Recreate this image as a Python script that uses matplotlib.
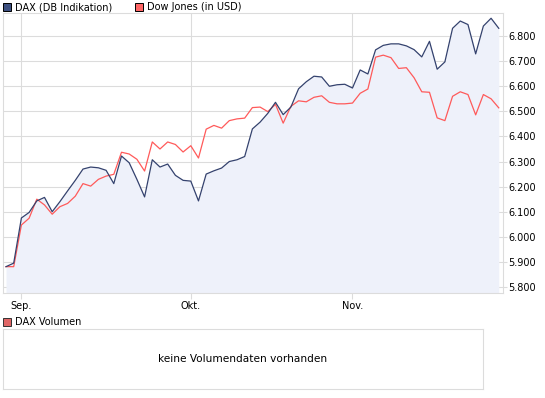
import pandas as pd
import matplotlib
matplotlib.use("Agg")
import matplotlib.pyplot as plt
from matplotlib.patches import Rectangle

# DAX und Dow Jones (auf DAX normiert), Handelstage ab 30.08.2010
dax = [5881, 5895, 6075, 6097, 6143, 6157, 6100, 6140, 6183, 6225,
       6270, 6278, 6275, 6265, 6212, 6322, 6295, 6229, 6159, 6307,
       6278, 6290, 6245, 6225, 6222, 6143, 6250, 6263, 6274, 6300,
       6307, 6320, 6430, 6457, 6492, 6536, 6487, 6517, 6590, 6618,
       6640, 6637, 6600, 6606, 6608, 6593, 6665, 6649, 6745, 6763,
       6769, 6769, 6761, 6746, 6717, 6779, 6668, 6697, 6831, 6860,
       6846, 6729, 6840, 6871, 6831]
dow = [5881, 5881, 6047, 6074, 6150, 6127, 6090, 6120, 6133, 6162,
       6212, 6202, 6229, 6242, 6249, 6337, 6330, 6309, 6262, 6378,
       6350, 6378, 6368, 6338, 6363, 6314, 6429, 6444, 6433, 6463,
       6470, 6473, 6515, 6517, 6499, 6528, 6453, 6520, 6542, 6538,
       6556, 6562, 6536, 6530, 6530, 6533, 6572, 6589, 6716, 6724,
       6714, 6671, 6674, 6634, 6578, 6576, 6474, 6463, 6560, 6578,
       6567, 6486, 6567, 6550, 6514]
month_labels = ["Sep.", "Okt.", "Nov."]
y_ticks = [5800, 5900, 6000, 6100, 6200, 6300, 6400, 6500, 6600, 6700, 6800]

DAX_COLOR = "#34426e"
DOW_COLOR = "#ff5a5a"
FILL_COLOR = "#eef1fa"
GRID_COLOR = "#dcdcdc"
FS = 7

W, H = 545, 398
plt.rcParams["font.family"] = ["DejaVu Sans"]


def box(x0, y0, x1, y1):
    # pixel box (top-left origin) -> figure fraction rect
    return [x0 / W, 1 - y1 / H, (x1 - x0) / W, (y1 - y0) / H]


dates = pd.bdate_range("2010-08-30", periods=len(dax))
idx = list(range(len(dax)))
month_pos = [i for i in range(1, len(dates)) if dates[i].month != dates[i - 1].month]

fig = plt.figure(figsize=(W / 100, H / 100), dpi=100)

ax = fig.add_axes(box(3, 13, 503, 293))
ax.fill_between(idx, dax, 5700, color=FILL_COLOR, lw=0, zorder=1)
ax.plot(idx, dow, color=DOW_COLOR, lw=0.9, zorder=3)
ax.plot(idx, dax, color=DAX_COLOR, lw=0.9, zorder=4)
ax.set_xlim(-0.39, 64.55)
ax.set_ylim(5776, 6892)
ax.set_yticks(y_ticks)
ax.set_yticklabels([f"{v:,}".replace(",", ".") for v in y_ticks])
ax.yaxis.tick_right()
ax.set_xticks(month_pos)
ax.set_xticklabels(month_labels)
ax.grid(True, color=GRID_COLOR, lw=0.8, zorder=0)
ax.set_axisbelow(True)
for s in ax.spines.values():
    s.set_color(GRID_COLOR)
    s.set_linewidth(0.8)
ax.tick_params(axis="y", length=3, width=0.8, color=GRID_COLOR, pad=1,
               labelsize=FS, labelcolor="black")
ax.tick_params(axis="x", length=4, width=0.8, color=GRID_COLOR, pad=2,
               labelsize=FS, labelcolor="black")

# Legende oben
fig.add_artist(Rectangle((3 / W, 1 - 10.5 / H), 8 / W, 8 / H, transform=fig.transFigure,
                         facecolor="#3d5080", edgecolor="black", lw=0.7))
fig.text(15 / W, 1 - 7 / H, "DAX (DB Indikation)", fontsize=FS, va="center", ha="left")
fig.add_artist(Rectangle((135 / W, 1 - 10.5 / H), 8 / W, 8 / H, transform=fig.transFigure,
                         facecolor="#ff6666", edgecolor="black", lw=0.7))
fig.text(147 / W, 1 - 7 / H, "Dow Jones (in USD)", fontsize=FS, va="center", ha="left")

# Volumen-Bereich
fig.add_artist(Rectangle((3 / W, 1 - 325.5 / H), 8 / W, 8 / H, transform=fig.transFigure,
                         facecolor="#e06666", edgecolor="#333333", lw=0.7))
fig.text(15 / W, 1 - 322 / H, "DAX Volumen", fontsize=FS, va="center", ha="left")

vax = fig.add_axes(box(3, 329, 483, 389))
vax.set_xticks([])
vax.set_yticks([])
for s in vax.spines.values():
    s.set_color(GRID_COLOR)
    s.set_linewidth(0.8)
vax.text(0.5, 0.5, "keine Volumendaten vorhanden", transform=vax.transAxes,
         ha="center", va="center", fontsize=7.6)

fig.savefig("out.png", dpi=100)
